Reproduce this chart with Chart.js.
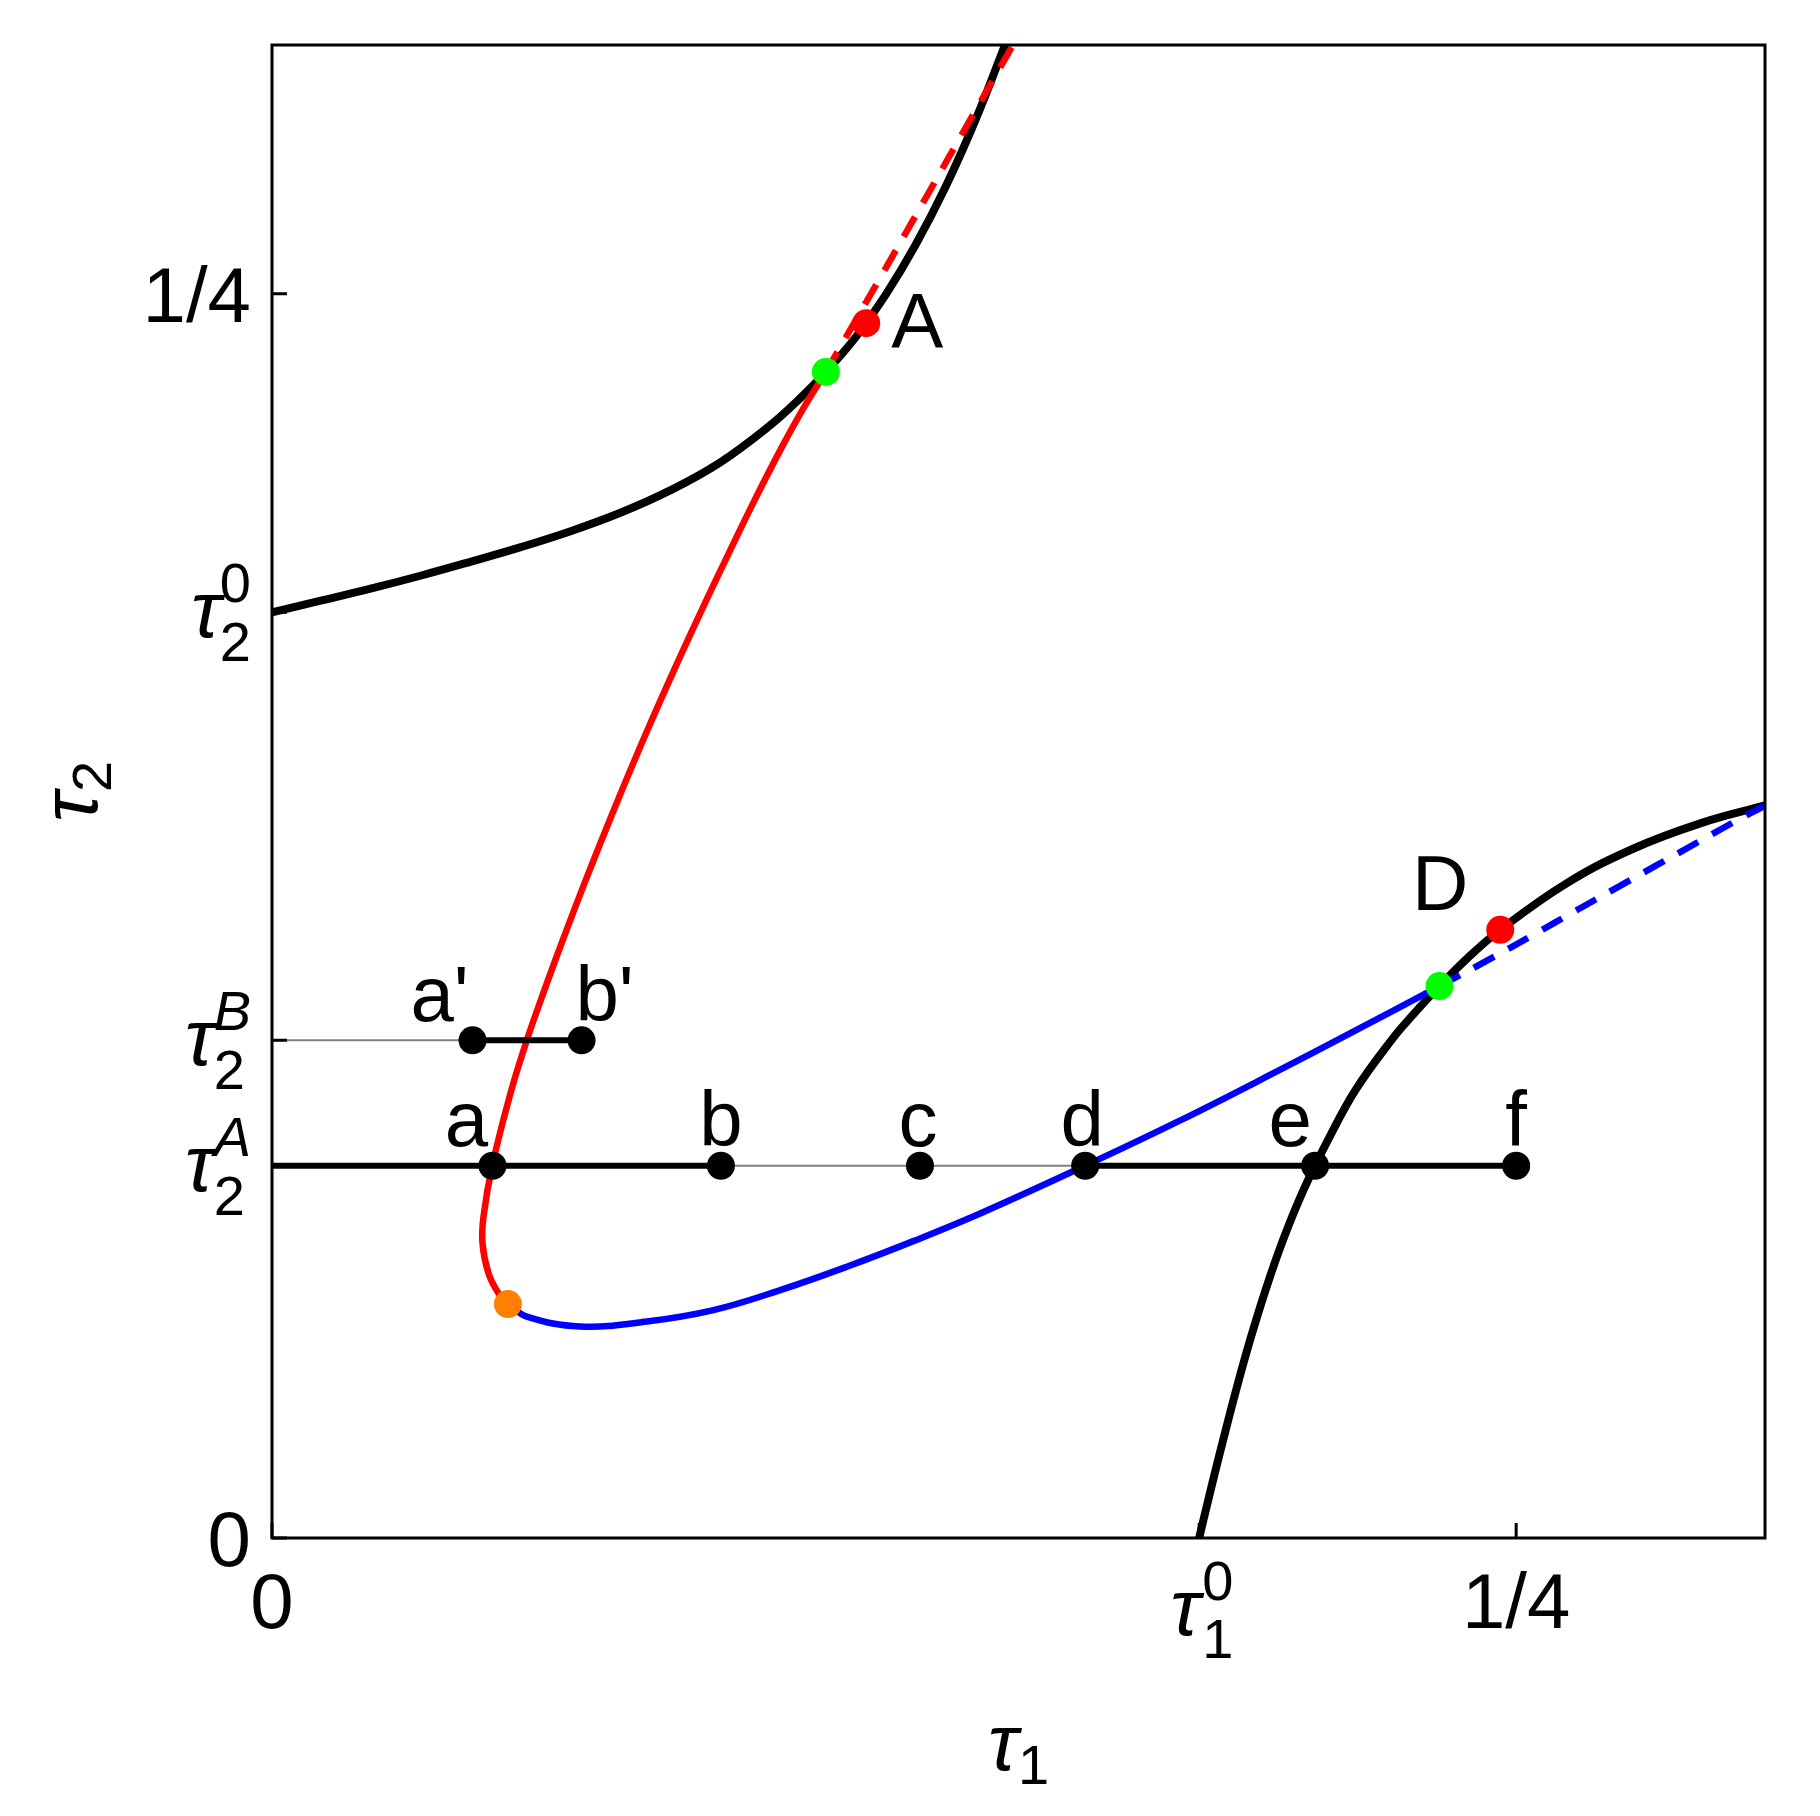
<!DOCTYPE html>
<html>
<head>
<meta charset="utf-8">
<script src="https://cdn.jsdelivr.net/npm/chart.js@4.4.0/dist/chart.umd.min.js"></script>
<style>
html,body{margin:0;padding:0;background:#ffffff;}
canvas{display:block;}
</style>
</head>
<body>
<canvas id="chart" width="1820" height="1816" style="width:1820px;height:1816px"></canvas>
<script>
// ---------------- data ----------------
const TAU1_0 = 0.1863;
const TAU2_0 = 0.1860;
const TAU2_A = 0.0748;
const TAU2_B = 0.1000;

const xTickValues = [0, TAU1_0, 0.25];
const xTickLabels = ['0', 'τ_1^0', '1/4'];
const yTickValues = [0, TAU2_A, TAU2_B, TAU2_0, 0.25];
const yTickLabels = ['0', 'τ_2^A', 'τ_2^B', 'τ_2^0', '1/4'];

// upper black boundary curve
const upperX = [0, 0.01, 0.02, 0.03, 0.04, 0.05, 0.06, 0.07, 0.08, 0.09, 0.10, 0.1057, 0.1113, 0.1173, 0.1233, 0.1293, 0.1353, 0.1413, 0.1473];
const upperY = [0.1860, 0.1884, 0.1908, 0.1934, 0.1962, 0.1991, 0.2023, 0.2060, 0.2105, 0.2161, 0.2235, 0.2286, 0.2343, 0.2413, 0.2498, 0.2598, 0.2714, 0.2848, 0.3000];

// lower-right black boundary curve
const lowerX = [0.1863, 0.1887, 0.1912, 0.1938, 0.1966, 0.1997, 0.2032, 0.2073, 0.2122, 0.2177, 0.2249, 0.2296, 0.2346, 0.2402, 0.2468, 0.2602, 0.2735, 0.2870, 0.3000];
const lowerY = [0, 0.0100, 0.0200, 0.0300, 0.0400, 0.0500, 0.0600, 0.0700, 0.0800, 0.0900, 0.1000, 0.1055, 0.1109, 0.1165, 0.1222, 0.1316, 0.1385, 0.1436, 0.1472];

// red branch (solid), from orange point to green point
const redX = [0.0474, 0.0455, 0.0435, 0.0423, 0.0425, 0.0443, 0.0481, 0.0512, 0.0533, 0.0577, 0.0628, 0.0684, 0.0746, 0.0811, 0.0873, 0.0918, 0.0970, 0.1025, 0.1066, 0.1113];
const redY = [0.0470, 0.0492, 0.0532, 0.0592, 0.0646, 0.0750, 0.0900, 0.1000, 0.1061, 0.1182, 0.1316, 0.1456, 0.1604, 0.1751, 0.1885, 0.1979, 0.2086, 0.2193, 0.2267, 0.2343];

// red branch (dashed continuation)
const redDashX = [0.1113, 0.1222, 0.1316, 0.1406, 0.1489];
const redDashY = [0.2343, 0.2532, 0.2697, 0.2855, 0.3000];

// blue branch (solid), from orange point to green point
const blueX = [0.0474, 0.0512, 0.0619, 0.0753, 0.0887, 0.1021, 0.1155, 0.1290, 0.1423, 0.1634, 0.1825, 0.2026, 0.2166, 0.2346];
const blueY = [0.0470, 0.0445, 0.0425, 0.0435, 0.0458, 0.0498, 0.0545, 0.0597, 0.0652, 0.0748, 0.0839, 0.0941, 0.1014, 0.1109];

// blue branch (dashed continuation)
const blueDashX = [0.2346, 0.2454, 0.2538, 0.2619, 0.2699, 0.2779, 0.2863, 0.2960, 0.3000];
const blueDashY = [0.1109, 0.1167, 0.1214, 0.1260, 0.1305, 0.1350, 0.1397, 0.1451, 0.1471];

// labelled black points
const pointNames = ["a'", "b'", 'a', 'b', 'c', 'd', 'e', 'f'];
const pointX = [0.0403, 0.0622, 0.0443, 0.0902, 0.1302, 0.1634, 0.2096, 0.2500];
const pointY = [TAU2_B, TAU2_B, TAU2_A, TAU2_A, TAU2_A, TAU2_A, TAU2_A, TAU2_A];

// special points
const greenX = [0.1113, 0.2346];
const greenY = [0.2343, 0.1109];
const redDotNames = ['A', 'D'];
const redDotX = [0.1194, 0.2468];
const redDotY = [0.2441, 0.1222];
const orangeX = [0.0474];
const orangeY = [0.0470];

// ---------------- styles ----------------
const FONT = 'Liberation Sans, Arial, sans-serif';
const LABEL_OFFSETS = {
  "a'": {dx: -33, dy: -19, align: 'center'},
  "b'": {dx: 23, dy: -19, align: 'center'},
  'a': {dx: -26, dy: -20, align: 'center'},
  'b': {dx: 0, dy: -20, align: 'center'},
  'c': {dx: -2, dy: -20, align: 'center'},
  'd': {dx: -3, dy: -20, align: 'center'},
  'e': {dx: -25, dy: -20, align: 'center'},
  'f': {dx: 0, dy: -20, align: 'center'},
  'A': {dx: 25, dy: 25, align: 'left'},
  'D': {dx: -60, dy: -20, align: 'center'}
};

function zip(xs, ys) { return xs.map((x, i) => ({x: x, y: ys[i]})); }
function curve(xs, ys, color, width, order, dash) {
  return {data: zip(xs, ys), showLine: true, borderColor: color, backgroundColor: color,
          borderWidth: width, pointRadius: 0, pointHoverRadius: 0, pointHitRadius: 0,
          tension: 0.4, fill: false, borderDash: dash || [], borderCapStyle: 'butt',
          borderJoinStyle: 'round', order: order};
}
function seg(x0, x1, y, color, width, order) {
  return curve([x0, x1], [y, y], color, width, order);
}
function dots(xs, ys, color) {
  return {data: zip(xs, ys), showLine: false, pointRadius: 14, pointHoverRadius: 14,
          pointBackgroundColor: color, pointBorderWidth: 0, pointBorderColor: color,
          backgroundColor: color, borderColor: color, borderWidth: 0, order: 0};
}

const GRAY = '#808080';
const datasets = [
  // thin gray guide lines
  seg(0, pointX[0], TAU2_B, GRAY, 2, 9),
  seg(pointX[3], pointX[5], TAU2_A, GRAY, 2, 9),
  // thick black segments
  seg(pointX[0], pointX[1], TAU2_B, '#000000', 6, 2),
  seg(0, pointX[3], TAU2_A, '#000000', 6, 2),
  seg(pointX[5], pointX[7], TAU2_A, '#000000', 6, 2),
  // boundary curves
  curve(upperX, upperY, '#000000', 8, 6),
  curve(lowerX, lowerY, '#000000', 8, 6),
  // branches
  curve(redX, redY, '#ff0000', 6.5, 4),
  curve(blueX, blueY, '#0000ff', 6.5, 4),
  curve(redDashX, redDashY, '#ff0000', 6.5, 3, [23, 16]),
  curve(blueDashX, blueDashY, '#0000ff', 6.5, 3, [23, 16]),
  // points
  dots(pointX, pointY, '#000000'),
  dots(greenX, greenY, '#00ff00'),
  dots(redDotX, redDotY, '#ff0000'),
  dots(orangeX, orangeY, '#ff8000')
];

function parseLabel(s) {
  const m = /^τ_(\w)\^(\w)$/.exec(s);
  if (m) return {base: 'τ', sub: m[1], sup: m[2]};
  return {base: s};
}

const decorPlugin = {
  id: 'decor',
  afterDatasetsDraw(chart) {
    const ctx = chart.ctx;
    const area = chart.chartArea;
    const xs = chart.scales.x, ys = chart.scales.y;
    ctx.save();
    ctx.fillStyle = '#000000';
    ctx.strokeStyle = '#000000';
    ctx.setLineDash([]);

    // frame
    ctx.lineWidth = 3;
    ctx.strokeRect(area.left, area.top, area.right - area.left, area.bottom - area.top);

    // ticks (inward)
    ctx.beginPath();
    yTickValues.forEach(v => {
      const py = ys.getPixelForValue(v);
      ctx.moveTo(area.left, py); ctx.lineTo(area.left + 15, py);
    });
    xTickValues.forEach(v => {
      const px = xs.getPixelForValue(v);
      ctx.moveTo(px, area.bottom); ctx.lineTo(px, area.bottom - 15);
    });
    ctx.stroke();

    ctx.textBaseline = 'alphabetic';
    // y tick labels
    const xR = area.left - 21;
    yTickValues.forEach((v, i) => {
      const py = ys.getPixelForValue(v);
      const L = parseLabel(yTickLabels[i]);
      if (!L.sub) {
        ctx.font = '78px ' + FONT;
        ctx.textAlign = 'right';
        ctx.fillText(L.base, xR, py + 28);
      } else {
        const supFont = (/[A-Za-z]/.test(L.sup) ? 'italic ' : '') + '56px ' + FONT;
        const subFont = '56px ' + FONT;
        ctx.font = supFont; const wSup = ctx.measureText(L.sup).width;
        ctx.font = subFont; const wSub = ctx.measureText(L.sub).width;
        const left = xR - Math.max(wSup, wSub);
        ctx.textAlign = 'left';
        ctx.font = supFont; ctx.fillText(L.sup, left, py - 10);
        ctx.font = subFont; ctx.fillText(L.sub, left, py + 49);
        ctx.font = 'italic 80px ' + FONT;
        ctx.textAlign = 'right';
        ctx.fillText(L.base, left + 1, py + 25);
      }
    });

    // x tick labels
    xTickValues.forEach((v, i) => {
      const px = xs.getPixelForValue(v);
      const L = parseLabel(xTickLabels[i]);
      if (!L.sub) {
        ctx.font = '78px ' + FONT;
        ctx.textAlign = 'center';
        ctx.fillText(L.base, px, area.bottom + 90);
      } else {
        ctx.font = 'italic 80px ' + FONT;
        ctx.textAlign = 'right';
        ctx.fillText(L.base, px + 1, area.bottom + 97);
        ctx.textAlign = 'left';
        ctx.font = '56px ' + FONT;
        ctx.fillText(L.sup, px + 3, area.bottom + 62);
        ctx.fillText(L.sub, px + 3, area.bottom + 120);
      }
    });

    // axis titles
    const cx = (area.left + area.right) / 2;
    const cy = (area.top + area.bottom) / 2;
    ctx.font = 'italic 80px ' + FONT;
    const wTau = ctx.measureText('τ').width;
    ctx.font = '56px ' + FONT;
    const w1 = ctx.measureText('1').width;
    let start = cx - (wTau + w1) / 2;
    ctx.textAlign = 'left';
    ctx.font = 'italic 80px ' + FONT;
    ctx.fillText('τ', start, area.bottom + 232);
    ctx.font = '56px ' + FONT;
    ctx.fillText('1', start + wTau, area.bottom + 246);

    ctx.save();
    ctx.translate(area.left - 175, cy);
    ctx.rotate(-Math.PI / 2);
    ctx.font = '56px ' + FONT;
    const w2 = ctx.measureText('2').width;
    start = -(wTau + w2) / 2;
    ctx.font = 'italic 80px ' + FONT;
    ctx.fillText('τ', start, 0);
    ctx.font = '56px ' + FONT;
    ctx.fillText('2', start + wTau, 14);
    ctx.restore();

    // point labels
    ctx.font = '78px ' + FONT;
    const labelAt = (name, x, y) => {
      const o = LABEL_OFFSETS[name];
      ctx.textAlign = o.align;
      ctx.fillText(name, xs.getPixelForValue(x) + o.dx, ys.getPixelForValue(y) + o.dy);
    };
    pointNames.forEach((n, i) => labelAt(n, pointX[i], pointY[i]));
    redDotNames.forEach((n, i) => labelAt(n, redDotX[i], redDotY[i]));

    ctx.restore();
  }
};

new Chart(document.getElementById('chart'), {
  type: 'line',
  data: {datasets: datasets},
  options: {
    responsive: false,
    animation: false,
    devicePixelRatio: 1,
    events: [],
    layout: {padding: {left: 272, top: 45, right: 55, bottom: 278}},
    scales: {
      x: {type: 'linear', min: 0, max: 0.3, display: false},
      y: {type: 'linear', min: 0, max: 0.3, display: false}
    },
    plugins: {legend: {display: false}, tooltip: {enabled: false}}
  },
  plugins: [decorPlugin]
});
</script>
</body>
</html>
